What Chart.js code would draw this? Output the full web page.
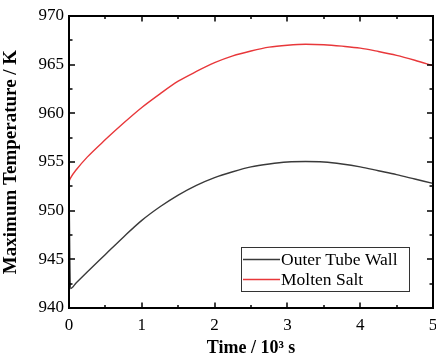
<!DOCTYPE html>
<html>
<head>
<meta charset="utf-8">
<script src="https://cdn.jsdelivr.net/npm/chart.js@4/dist/chart.umd.min.js"></script>
<style>
  html, body { margin: 0; padding: 0; background: #fff; overflow: hidden; }
  #wrap { width: 436px; height: 361px; position: relative; }
</style>
</head>
<body>
<div id="wrap"><canvas id="c"></canvas></div>
<script>
// Time axis, in 10^3 s
const timeKs = [0, 0.02, 0.1, 0.25, 0.5, 0.75, 1.0, 1.25, 1.5, 1.75, 2.0, 2.25, 2.5, 2.75, 3.0, 3.25, 3.5, 3.75, 4.0, 4.25, 4.5, 4.75, 5.0];
// Maximum temperature of the outer tube wall, K
const outerTubeWall = [952.8, 942.0, 942.6, 943.7, 945.5, 947.3, 949.0, 950.4, 951.6, 952.6, 953.4, 954.0, 954.5, 954.8, 955.0, 955.05, 955.0, 954.8, 954.5, 954.1, 953.7, 953.25, 952.8];
// Maximum temperature of the molten salt, K
const moltenSalt = [953.0, 953.35, 954.2, 955.5, 957.3, 959.0, 960.6, 962.0, 963.3, 964.3, 965.2, 965.9, 966.4, 966.8, 967.0, 967.1, 967.05, 966.9, 966.7, 966.35, 965.95, 965.45, 964.9];
const seriesNames = ['Outer Tube Wall', 'Molten Salt'];
const xTicks = [0, 1, 2, 3, 4, 5];
const yTicks = [940, 945, 950, 955, 960, 965, 970];

const FONT = '"Liberation Serif", "Times New Roman", serif';

const toPts = (ys) => timeKs.map((t, i) => ({ x: t, y: ys[i] }));

// Frame, inward major/minor ticks on all four sides, and boxed legend
const framePlugin = {
  id: 'frame',
  afterDatasetsDraw(chart) {
    const { ctx, chartArea: a, scales } = chart;
    const xs = scales.x, ys = scales.y;
    ctx.save();
    ctx.strokeStyle = '#000';
    ctx.lineWidth = 1.5;
    // ticks
    ctx.beginPath();
    for (let v = xTicks[0]; v <= xTicks[xTicks.length - 1] + 1e-9; v += 0.5) {
      const major = Math.abs(v - Math.round(v)) < 1e-6;
      const len = major ? 5.5 : 3;
      const px = Math.round(xs.getPixelForValue(v));
      ctx.moveTo(px, a.bottom); ctx.lineTo(px, a.bottom - len);
      ctx.moveTo(px, a.top); ctx.lineTo(px, a.top + len);
    }
    for (let v = yTicks[0]; v <= yTicks[yTicks.length - 1] + 1e-9; v += 2.5) {
      const major = Math.abs(v / 5 - Math.round(v / 5)) < 1e-6;
      const len = major ? 6 : 3.5;
      const py = Math.round(ys.getPixelForValue(v));
      ctx.moveTo(a.left, py); ctx.lineTo(a.left + len, py);
      ctx.moveTo(a.right, py); ctx.lineTo(a.right - len, py);
    }
    ctx.stroke();
    // frame
    ctx.lineWidth = 2;
    ctx.strokeRect(a.left, a.top, a.right - a.left, a.bottom - a.top);

    // legend box
    const bx = 241, by = 247, bw = 168, bh = 44;
    ctx.fillStyle = '#fff';
    ctx.fillRect(bx, by, bw, bh);
    ctx.lineWidth = 1;
    ctx.strokeStyle = '#333';
    ctx.strokeRect(bx + 0.5, by + 0.5, bw, bh);
    ctx.font = '17.5px ' + FONT;
    ctx.textBaseline = 'middle';
    ctx.textAlign = 'left';
    chart.data.datasets.forEach((ds, i) => {
      const ly = by + 12.5 + i * 20;
      ctx.strokeStyle = ds.borderColor;
      ctx.lineWidth = 1.3;
      ctx.beginPath();
      ctx.moveTo(bx + 2, ly); ctx.lineTo(bx + 39, ly);
      ctx.stroke();
      ctx.fillStyle = '#000';
      ctx.fillText(ds.label, bx + 40, ly + 1);
    });
    ctx.restore();
  }
};

new Chart(document.getElementById('c'), {
  type: 'line',
  data: {
    datasets: [
      {
        label: seriesNames[0],
        data: toPts(outerTubeWall),
        borderColor: '#3a3a3a',
        borderWidth: 1.4,
        pointRadius: 0,
        cubicInterpolationMode: 'monotone'
      },
      {
        label: seriesNames[1],
        data: toPts(moltenSalt),
        borderColor: '#e8373a',
        borderWidth: 1.4,
        pointRadius: 0,
        cubicInterpolationMode: 'monotone'
      }
    ]
  },
  options: {
    responsive: true,
    maintainAspectRatio: false,
    animation: false,
    devicePixelRatio: 1,
    layout: { padding: { top: 16, right: 3, left: 0, bottom: 0 } },
    plugins: {
      legend: { display: false },
      tooltip: { enabled: false }
    },
    scales: {
      x: {
        type: 'linear',
        min: 0, max: 5,
        afterBuildTicks: (s) => { s.ticks = xTicks.map(v => ({ value: v })); },
        afterFit: (s) => { s.height = 53; s.paddingLeft = 0; s.paddingRight = 0; },
        grid: { display: false, drawTicks: false },
        border: { display: false },
        ticks: {
          color: '#000',
          padding: 7,
          font: { family: FONT, size: 17 },
          maxRotation: 0
        },
        title: {
          display: true,
          text: 'Time / 10³ s',
          color: '#000',
          font: { family: FONT, size: 18, weight: 'bold' },
          padding: { top: 0, bottom: 2 }
        }
      },
      y: {
        min: 940, max: 970,
        afterBuildTicks: (s) => { s.ticks = yTicks.map(v => ({ value: v })); },
        afterFit: (s) => { s.width = 69; s.paddingTop = 0; s.paddingBottom = 0; },
        grid: { display: false, drawTicks: false },
        border: { display: false },
        ticks: {
          color: '#000',
          padding: 5,
          font: { family: FONT, size: 17 }
        },
        title: {
          display: true,
          text: 'Maximum Temperature / K',
          color: '#000',
          font: { family: FONT, size: 19, weight: 'bold' },
          padding: { top: 0, bottom: 0 }
        }
      }
    }
  },
  plugins: [framePlugin]
});
</script>
</body>
</html>
